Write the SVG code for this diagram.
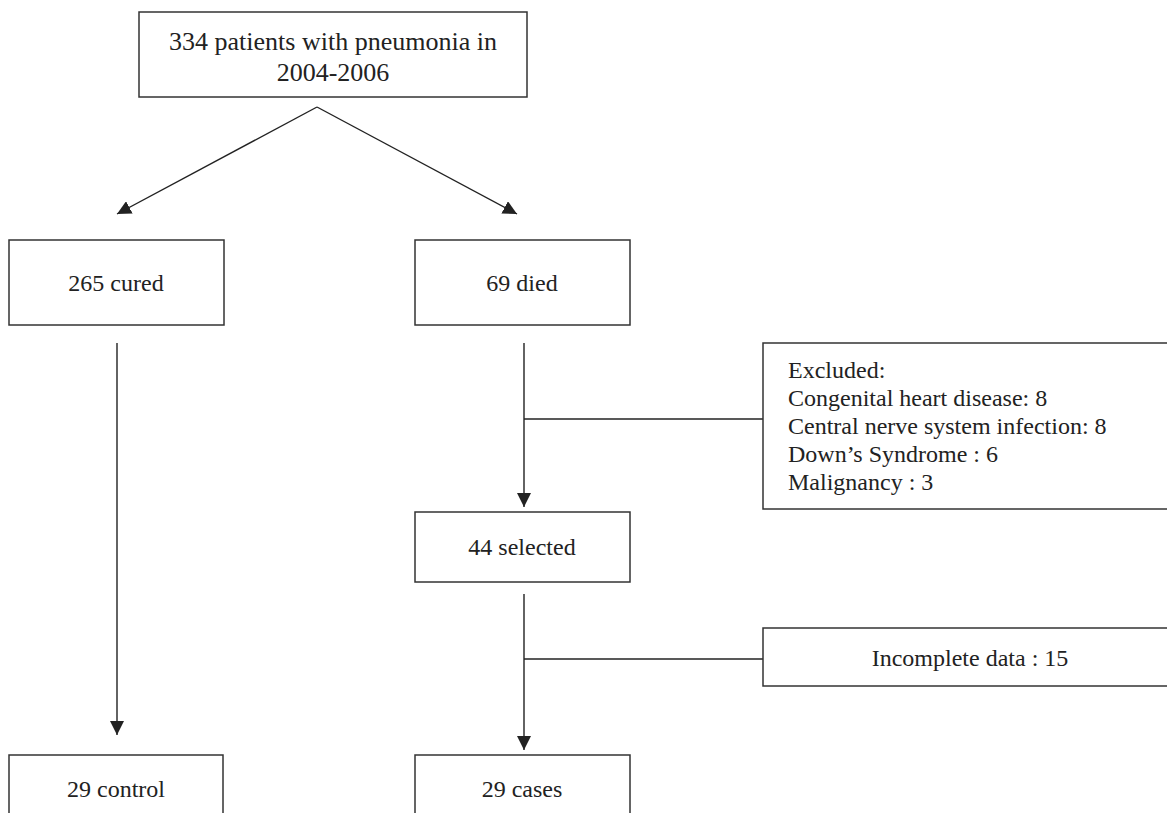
<svg xmlns="http://www.w3.org/2000/svg" width="1167" height="813" viewBox="0 0 1167 813">
<style>
.box{fill:#fff;stroke:#333;stroke-width:1.5}
.ln{fill:none;stroke:#222;stroke-width:1.4}
text{font-family:"Liberation Serif",serif;font-size:24px;fill:#222}
.c{text-anchor:middle}
.t{font-size:26px}
</style>
<defs>
<marker id="ah" viewBox="0 0 10 10" refX="10" refY="5" markerWidth="14" markerHeight="14" markerUnits="userSpaceOnUse" orient="auto">
<path d="M0,0 L10,5 L0,10 z" fill="#222"/>
</marker>
</defs>
<rect width="1167" height="813" fill="#fff"/>
<g id="connectors">
<path class="ln" d="M317,107 L117,214" marker-end="url(#ah)"/>
<path class="ln" d="M317,107 L517,214" marker-end="url(#ah)"/>
<path class="ln" d="M117,343 L117,735" marker-end="url(#ah)"/>
<path class="ln" d="M524,343 L524,507" marker-end="url(#ah)"/>
<path class="ln" d="M524,594 L524,750" marker-end="url(#ah)"/>
<path class="ln" d="M524,419 L764,419"/>
<path class="ln" d="M524,659 L764,659"/>
</g>
<g id="n-top">
<rect class="box" x="139" y="12" width="388" height="85"/>
<text class="c t" x="333" y="50">334 patients with pneumonia in</text>
<text class="c t" x="333" y="81">2004-2006</text>
</g>
<g id="n-cured">
<rect class="box" x="9" y="240" width="215" height="85"/>
<text class="c" x="116" y="291">265 cured</text>
</g>
<g id="n-died">
<rect class="box" x="415" y="240" width="215" height="85"/>
<text class="c" x="522" y="291">69 died</text>
</g>
<g id="n-excluded">
<rect class="box" x="763" y="343" width="420" height="166"/>
<text x="788" y="378">Excluded:</text>
<text x="788" y="406">Congenital heart disease: 8</text>
<text x="788" y="434">Central nerve system infection: 8</text>
<text x="788" y="462">Down’s Syndrome : 6</text>
<text x="788" y="490">Malignancy : 3</text>
</g>
<g id="n-selected">
<rect class="box" x="415" y="512" width="215" height="70"/>
<text class="c" x="522" y="555">44 selected</text>
</g>
<g id="n-incomplete">
<rect class="box" x="763" y="628" width="420" height="58"/>
<text class="c" x="970" y="666">Incomplete data : 15</text>
</g>
<g id="n-control">
<rect class="box" x="9" y="755" width="214" height="80"/>
<text class="c" x="116" y="797">29 control</text>
</g>
<g id="n-cases">
<rect class="box" x="415" y="755" width="215" height="80"/>
<text class="c" x="522" y="797">29 cases</text>
</g>
</svg>
